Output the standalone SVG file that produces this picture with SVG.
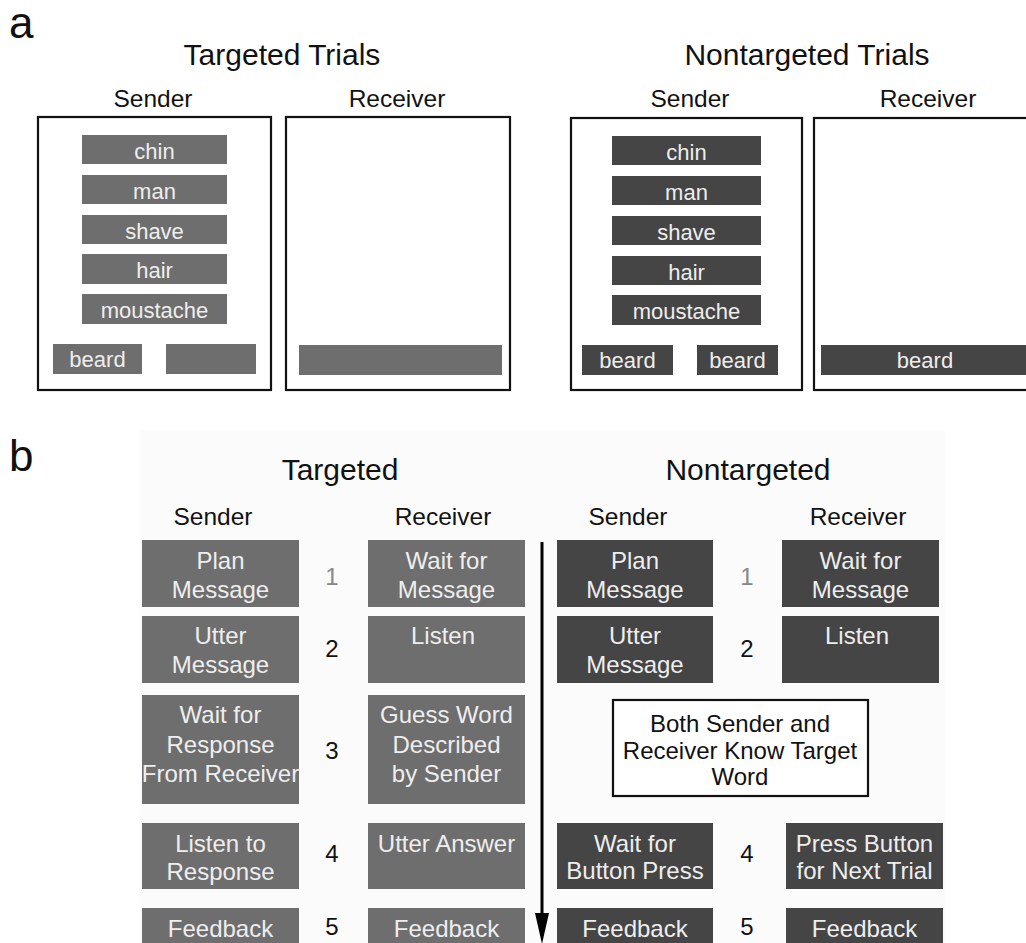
<svg xmlns="http://www.w3.org/2000/svg" width="1026" height="943" viewBox="0 0 1026 943">
<style>
text{font-family:"Liberation Sans",Arial,sans-serif;text-anchor:middle}
.lab{font-size:44px;text-anchor:start;fill:#111}
.title{font-size:30px;fill:#111}
.hdr{font-size:24.5px;fill:#111}
.frame{fill:#fff;stroke:#111;stroke-width:2.2}
.lt{fill:#6e6e6e}
.dk{fill:#454545}
.w{font-size:22px;fill:#eeeeee}
.bt{font-size:24px;fill:#eeeeee}
.num{font-size:24px;fill:#111}
.num1{font-size:24px;fill:#888}
.note{font-size:24px;fill:#111}
</style>
<rect width="1026" height="943" fill="#fff"/>
<rect x="140" y="430" width="805" height="513" fill="#fbfbfb"/>

<text class="lab" x="9" y="38">a</text>
<text class="lab" x="9" y="471">b</text>

<g id="panel-a-targeted">
<text class="title" x="282" y="65">Targeted Trials</text>
<text class="hdr" x="153" y="107">Sender</text>
<text class="hdr" x="397" y="107">Receiver</text>
<rect class="frame" x="38" y="117" width="233" height="273"/>
<rect class="frame" x="286" y="117" width="224" height="273"/>
<g id="t-chin"><rect class="lt" x="82" y="135" width="145" height="29"/><text class="w" x="154.5" y="159">chin</text></g>
<g id="t-man"><rect class="lt" x="82" y="175" width="145" height="29"/><text class="w" x="154.5" y="199">man</text></g>
<g id="t-shave"><rect class="lt" x="82" y="215" width="145" height="29"/><text class="w" x="154.5" y="239">shave</text></g>
<g id="t-hair"><rect class="lt" x="82" y="254" width="145" height="30"/><text class="w" x="154.5" y="278">hair</text></g>
<g id="t-moustache"><rect class="lt" x="82" y="294" width="145" height="30"/><text class="w" x="154.5" y="318">moustache</text></g>
<g id="t-beard"><rect class="lt" x="53" y="344" width="89" height="30"/><text class="w" x="97.5" y="367">beard</text></g>
<g id="t-blank"><rect class="lt" x="166" y="344" width="90" height="30"/></g>
<g id="t-recv-bar"><rect class="lt" x="299" y="345" width="203" height="30"/></g>
</g>

<g id="panel-a-nontargeted">
<text class="title" x="807" y="65">Nontargeted Trials</text>
<text class="hdr" x="690" y="107">Sender</text>
<text class="hdr" x="928" y="107">Receiver</text>
<rect class="frame" x="571" y="118" width="231" height="272"/>
<rect class="frame" x="814" y="118" width="230" height="272"/>
<g id="n-chin"><rect class="dk" x="612" y="136" width="149" height="29"/><text class="w" x="686.5" y="160">chin</text></g>
<g id="n-man"><rect class="dk" x="612" y="176" width="149" height="29"/><text class="w" x="686.5" y="200">man</text></g>
<g id="n-shave"><rect class="dk" x="612" y="216" width="149" height="29"/><text class="w" x="686.5" y="240">shave</text></g>
<g id="n-hair"><rect class="dk" x="612" y="256" width="149" height="29"/><text class="w" x="686.5" y="280">hair</text></g>
<g id="n-moustache"><rect class="dk" x="612" y="295" width="149" height="30"/><text class="w" x="686.5" y="319">moustache</text></g>
<g id="n-beard1"><rect class="dk" x="582" y="345" width="91" height="30"/><text class="w" x="627.5" y="368">beard</text></g>
<g id="n-beard2"><rect class="dk" x="697" y="345" width="81" height="30"/><text class="w" x="737.5" y="368">beard</text></g>
<g id="n-recv-bar"><rect class="dk" x="821" y="345" width="215" height="30"/><text class="w" x="925" y="368">beard</text></g>
</g>

<g id="panel-b-headers">
<text class="title" x="340" y="480">Targeted</text>
<text class="title" x="748" y="480">Nontargeted</text>
<text class="hdr" x="213" y="525">Sender</text>
<text class="hdr" x="443" y="525">Receiver</text>
<text class="hdr" x="628" y="525">Sender</text>
<text class="hdr" x="858" y="525">Receiver</text>
</g>

<g id="b-targeted">
<g id="ts1"><rect class="lt" x="142" y="540" width="157" height="67"/><text class="bt" x="220.5" y="569">Plan</text><text class="bt" x="220.5" y="598">Message</text></g>
<g id="tr1"><rect class="lt" x="368" y="540" width="157" height="67"/><text class="bt" x="446.5" y="569">Wait for</text><text class="bt" x="446.5" y="598">Message</text></g>
<g id="ts2"><rect class="lt" x="142" y="616" width="157" height="67"/><text class="bt" x="220.5" y="644">Utter</text><text class="bt" x="220.5" y="673">Message</text></g>
<g id="tr2"><rect class="lt" x="368" y="616" width="157" height="67"/><text class="bt" x="443" y="644">Listen</text></g>
<g id="ts3"><rect class="lt" x="142" y="695" width="157" height="109"/><text class="bt" x="220.5" y="723">Wait for</text><text class="bt" x="220.5" y="753">Response</text><text class="bt" x="220.5" y="782">From Receiver</text></g>
<g id="tr3"><rect class="lt" x="368" y="695" width="157" height="109"/><text class="bt" x="446.5" y="723">Guess Word</text><text class="bt" x="446.5" y="753">Described</text><text class="bt" x="446.5" y="782">by Sender</text></g>
<g id="ts4"><rect class="lt" x="142" y="823" width="157" height="66"/><text class="bt" x="220.5" y="852">Listen to</text><text class="bt" x="220.5" y="880">Response</text></g>
<g id="tr4"><rect class="lt" x="368" y="823" width="157" height="66"/><text class="bt" x="446.5" y="852">Utter Answer</text></g>
<g id="ts5"><rect class="lt" x="142" y="908" width="157" height="40"/><text class="bt" x="220.5" y="937">Feedback</text></g>
<g id="tr5"><rect class="lt" x="368" y="908" width="157" height="40"/><text class="bt" x="446.5" y="937">Feedback</text></g>
<text class="num1" x="332" y="585">1</text>
<text class="num" x="332" y="657">2</text>
<text class="num" x="332" y="759">3</text>
<text class="num" x="332" y="862">4</text>
<text class="num" x="332" y="935">5</text>
</g>

<g id="b-nontargeted">
<g id="ns1"><rect class="dk" x="557" y="540" width="156" height="67"/><text class="bt" x="635" y="569">Plan</text><text class="bt" x="635" y="598">Message</text></g>
<g id="nr1"><rect class="dk" x="782" y="540" width="157" height="67"/><text class="bt" x="860.5" y="569">Wait for</text><text class="bt" x="860.5" y="598">Message</text></g>
<g id="ns2"><rect class="dk" x="557" y="616" width="156" height="67"/><text class="bt" x="635" y="644">Utter</text><text class="bt" x="635" y="673">Message</text></g>
<g id="nr2"><rect class="dk" x="782" y="616" width="157" height="67"/><text class="bt" x="857" y="644">Listen</text></g>
<g id="both"><rect x="613" y="700" width="255" height="96" fill="#fff" stroke="#111" stroke-width="2.2"/><text class="note" x="740" y="732">Both Sender and</text><text class="note" x="740" y="759">Receiver Know Target</text><text class="note" x="740" y="785">Word</text></g>
<g id="ns4"><rect class="dk" x="557" y="823" width="156" height="66"/><text class="bt" x="635" y="852">Wait for</text><text class="bt" x="635" y="879">Button Press</text></g>
<g id="nr4"><rect class="dk" x="786" y="823" width="157" height="66"/><text class="bt" x="864.5" y="852">Press Button</text><text class="bt" x="864.5" y="879">for Next Trial</text></g>
<g id="ns5"><rect class="dk" x="557" y="908" width="156" height="40"/><text class="bt" x="635" y="937">Feedback</text></g>
<g id="nr5"><rect class="dk" x="786" y="908" width="157" height="40"/><text class="bt" x="864.5" y="937">Feedback</text></g>
<text class="num1" x="747" y="585">1</text>
<text class="num" x="747" y="657">2</text>
<text class="num" x="747" y="862">4</text>
<text class="num" x="747" y="935">5</text>
</g>

<g id="connectors">
<line x1="542" y1="542" x2="542" y2="916" stroke="#000" stroke-width="3"/>
<polygon points="535,913 549,913 542,944" fill="#000"/>
</g>
</svg>
